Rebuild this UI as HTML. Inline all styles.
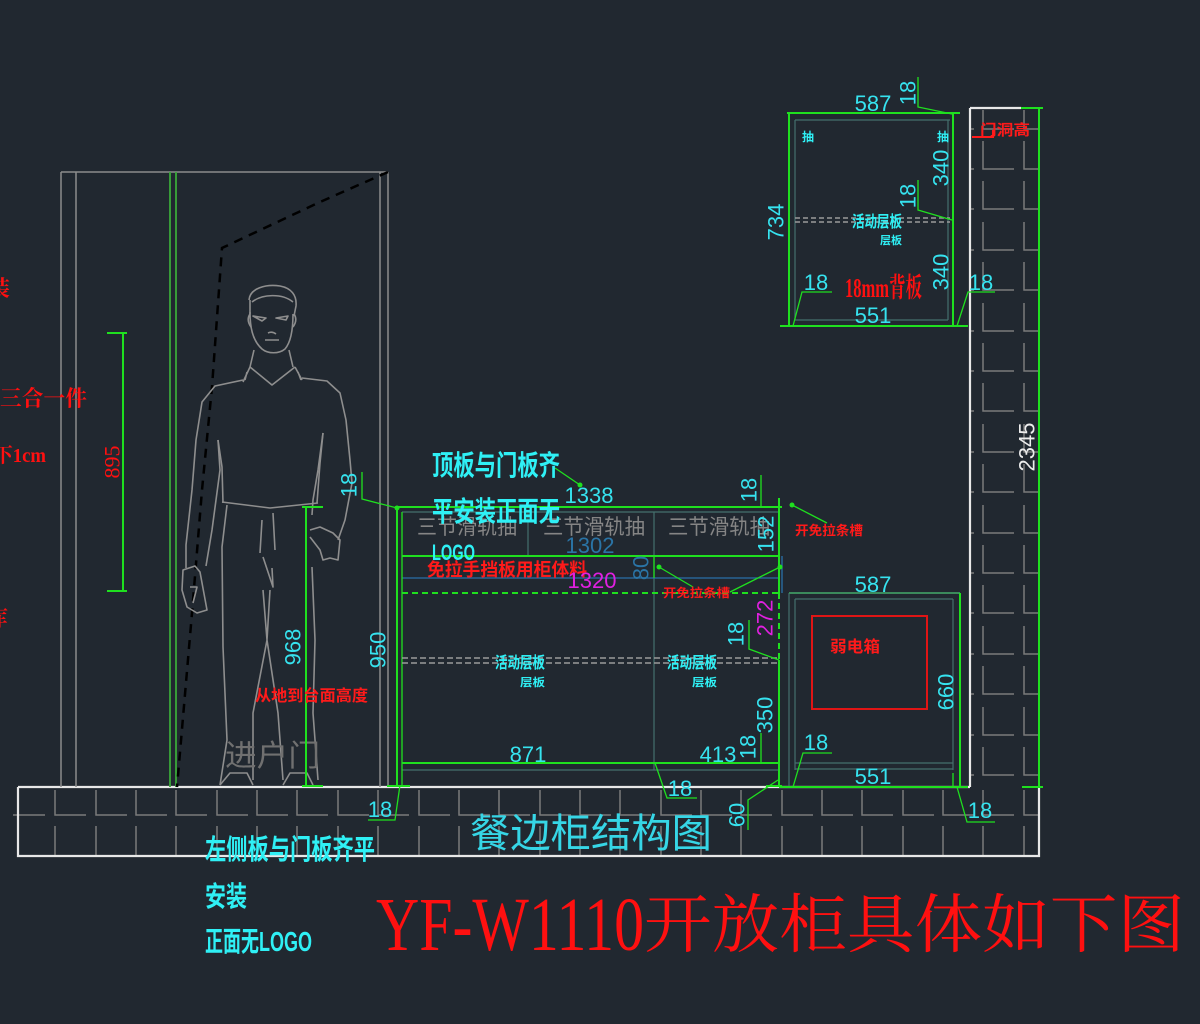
<!DOCTYPE html>
<html><head><meta charset="utf-8"><style>
html,body{margin:0;padding:0;background:#212830;}
svg{display:block;}
.d{font-family:"Liberation Sans","DejaVu Sans",sans-serif;fill:#36e3ef;font-size:22px;}
.cb{font-family:"Liberation Sans","Noto Sans CJK SC",sans-serif;font-weight:700;fill:#2ff0f5;}
.rb{font-family:"Liberation Sans","Noto Sans CJK SC",sans-serif;font-weight:700;fill:#ff1a1a;}
.rs{font-family:"Liberation Serif","Noto Serif CJK SC",serif;fill:#ff1010;}
.g{stroke:#1fe01f;stroke-width:2;fill:none;}
.gt{stroke:#1fe01f;stroke-width:1.3;fill:none;}
.gr{stroke:#8c8c8c;stroke-width:1.5;fill:none;}
.tl{stroke:#45706e;stroke-width:1.2;fill:none;}
</style></head><body>
<svg width="1200" height="1024" viewBox="0 0 1200 1024" xmlns="http://www.w3.org/2000/svg">
<rect width="1200" height="1024" fill="#212830"/>

<!-- floor bricks -->
<path stroke="#7a7a7a" stroke-width="1.5" fill="none" d="M13 815H45 M55 790V815H86 M96 790V815H127 M136 790V815H167 M176 790V815H207 M217 790V815H248 M257 790V815H288 M297 790V815H328 M338 790V815H369 M378 790V815H409 M419 790V815H450 M459 790V815H490 M499 790V815H530 M540 790V815H571 M580 790V815H611 M620 790V815H651 M661 790V815H692 M701 790V815H732 M741 790V815H772 M782 790V815H813 M822 790V815H853 M862 790V815H893 M903 790V815H934 M943 790V815H974 M983 790V815H1014 M1024 790V815H1039
M55 826V855 M96 826V855 M136 826V855 M176 826V855 M217 826V855 M257 826V855 M297 826V855 M338 826V855 M378 826V855 M419 826V855 M459 826V855 M499 826V855 M540 826V855 M580 826V855 M620 826V855 M661 826V855 M701 826V855 M741 826V855 M782 826V855 M822 826V855 M862 826V855 M903 826V855 M943 826V855 M983 826V855 M1024 826V855"/>
<!-- wall bricks -->
<path stroke="#7a7a7a" stroke-width="1.5" fill="none" d="M983 110V129H1014M1024 110V129H1039 M983 141V169H1014M1024 141V169H1039 M983 181V209H1014M1024 181V209H1039 M983 222V250H1014M1024 222V250H1039 M983 262V290H1014M1024 262V290H1039 M983 303V331H1014M1024 303V331H1039 M983 343V371H1014M1024 343V371H1039 M983 383V411H1014M1024 383V411H1039 M983 424V452H1014M1024 424V452H1039 M983 464V492H1014M1024 464V492H1039 M983 505V533H1014M1024 505V533H1039 M983 545V573H1014M1024 545V573H1039 M983 585V613H1014M1024 585V613H1039 M983 626V654H1014M1024 626V654H1039 M983 666V694H1014M1024 666V694H1039 M983 707V735H1014M1024 707V735H1039 M983 747V775H1014M1024 747V775H1039
M970 129H974 M970 169H974 M970 209H974 M970 250H974 M970 290H974 M970 331H974 M970 371H974 M970 411H974 M970 452H974 M970 492H974 M970 533H974 M970 573H974 M970 613H974 M970 654H974 M970 694H974 M970 735H974 M970 775H974"/>
<!-- floor band / wall outline -->
<path stroke="#e8e8e8" stroke-width="2.2" fill="none" d="M18 787H970 M18 787V856H1039V787 M970 108V787 M970 108H1021"/>
<path class="g" d="M1021 108H1043 M1039 108V787 M1022 787H1043"/>
<text class="d" style="fill:#ececec" transform="translate(1027,447) rotate(-90)" text-anchor="middle" dominant-baseline="central">2345</text>
<text class="rb" x="980" y="135" font-size="15" textLength="50" lengthAdjust="spacingAndGlyphs">门洞高</text>
<path stroke="#ff1a1a" stroke-width="2" fill="none" d="M972 137H993V130"/>

<!-- door frame -->
<path class="gr" d="M61 172H388 M61 172V787 M76 172V787 M380 172V787 M388 172V787"/>
<path stroke="#3aa83a" stroke-width="1.8" fill="none" d="M170 172V787 M176 172V787"/>
<path stroke="#000" stroke-width="2.5" fill="none" stroke-dasharray="9 7" d="M388 172L320 202L222 248L212 387L202 490L192 613L177 787"/>

<!-- man -->
<g stroke="#8e8e8e" stroke-width="1.6" fill="none" stroke-linejoin="round">
<path d="M249 300C250 288 266 284 280 286C291 288 297 295 296 306L294 316"/>
<path d="M252 302C262 294 282 293 293 302"/>
<path d="M250 300L250 314"/>
<path d="M250 312C250 326 252 340 262 349C268 354 279 354 285 349C291 342 293 328 293 314"/>
<path d="M250 314Q246 320 251 327 M294 314Q298 320 293 327"/>
<path d="M253 316L266 318L262 321Z M276 318L288 316L286 320Z"/>
<path d="M268 333Q272 331 276 334 M265 340H279"/>
<path d="M254 350L250 367 M289 350L293 367"/>
<path d="M250 367L272 385L295 367 M250 367L243 382 M247 372L245 380 M295 367L302 380 M298 372L301 380"/>
<path d="M243 380L215 386L202 402L196 440L192 490L186 545L186 568"/>
<path d="M218 440L220 470L212 530L206 566"/>
<path d="M302 378L327 381L340 393L346 420L350 460L352 483L345 520L338 540"/>
<path d="M323 433L318 470L313 500L312 515"/>
<path d="M218 440L222 467L223 503 M323 433L320 463L317 503"/>
<path d="M222 502L270 508L318 503"/>
<path d="M183 570L195 566L200 572L207 610L197 613L187 607L182 590Z M190 587L197 587L193 603"/>
<path d="M310 530L320 527L333 533L340 540L338 560L330 558L323 560L320 550L310 537"/>
<path d="M227 505L222 547L223 647L227 740L220 785"/>
<path d="M263 590L267 640L253 713L253 780 M270 590L267 640L278 713L283 780"/>
<path d="M312 567L315 640L313 713L318 780"/>
<path d="M262 520L260 553 M273 513L275 550 M263 557L273 587L272 568"/>
<path d="M220 785L230 773L247 773L253 785 M283 785L290 773L307 773L313 785"/>
</g>
<text x="225" y="766" font-family="Liberation Sans,Noto Sans CJK SC,sans-serif" font-size="30" fill="#707070" textLength="95" lengthAdjust="spacingAndGlyphs">进户门</text>

<!-- left red notes -->
<text class="rs" x="-12" y="296" font-size="22" font-weight="700">装</text>
<text class="rs" x="0" y="406" font-size="22" font-weight="700" textLength="87" lengthAdjust="spacingAndGlyphs">三合一件</text>
<text class="rs" x="-6" y="462" font-size="20" font-weight="700" textLength="52" lengthAdjust="spacingAndGlyphs">下1cm</text>
<text class="rs" x="-14" y="626" font-size="22" font-weight="700">库</text>
<path class="g" d="M123 333V591 M107 333H127 M107 591H127"/>
<text class="rs" font-size="22" transform="translate(112,462) rotate(-90)" text-anchor="middle" dominant-baseline="central">895</text>

<!-- 968 dim -->
<path class="g" d="M306 507V786 M302 507H323 M302 786H323"/>
<text class="d" transform="translate(293,647) rotate(-90)" text-anchor="middle" dominant-baseline="central">968</text>
<text class="rb" x="255" y="701" font-size="16" textLength="113" lengthAdjust="spacingAndGlyphs">从地到台面高度</text>
<text class="d" transform="translate(378,650) rotate(-90)" text-anchor="middle" dominant-baseline="central">950</text>
<text class="d" transform="translate(349,485) rotate(-90)" text-anchor="middle" dominant-baseline="central">18</text>

<!-- middle cabinet -->
<path class="tl" d="M402 512H779 M528 512V556 M654 512V770 M402 770H779"/>
<path stroke="#2a6fa8" stroke-width="1.3" fill="none" d="M402 578H779 M782 556V593"/>
<path class="g" d="M395 507H782 M397 507V787 M779 498V593 M779 660V787 M402 556H779 M402 763H779 M387 786H410 M766 786H782"/>
<path class="gt" d="M402 512V787 M654 556V578"/>
<path class="g" stroke-dasharray="6 4" d="M402 593H779 M779 593V660"/>
<path stroke="#9a9a9a" stroke-width="1.4" fill="none" stroke-dasharray="6 3" d="M402 658H779 M402 663H779"/>
<!-- leaders middle -->
<path class="gt" d="M362 472V499L397 508 M761 475V507 M792 505L827 523 M659 567L693 587 M780 567L730 592 M749 620V649L779 660 M761 733V763H779 M655 763L667 798H697 M778 780L748 800V830 M400 785L395 820H368 M555 468L580 485"/>
<g fill="#1fe01f"><circle cx="792" cy="505" r="2.5"/><circle cx="659" cy="567" r="2.5"/><circle cx="780" cy="567" r="2.5"/><circle cx="580" cy="485" r="2.5"/><circle cx="397" cy="508" r="2.5"/></g>

<text x="417" y="534" font-family="Liberation Sans,Noto Sans CJK SC,sans-serif" font-size="21" fill="#858585" textLength="100" lengthAdjust="spacingAndGlyphs">三节滑轨抽</text>
<text x="543" y="534" font-family="Liberation Sans,Noto Sans CJK SC,sans-serif" font-size="21" fill="#858585" textLength="102" lengthAdjust="spacingAndGlyphs">三节滑轨抽</text>
<text x="668" y="534" font-family="Liberation Sans,Noto Sans CJK SC,sans-serif" font-size="21" fill="#858585" textLength="102" lengthAdjust="spacingAndGlyphs">三节滑轨抽</text>

<text class="cb" x="432" y="475" font-size="28" textLength="128" lengthAdjust="spacingAndGlyphs">顶板与门板齐</text>
<text class="cb" x="432" y="521" font-size="28" textLength="128" lengthAdjust="spacingAndGlyphs">平安装正面无</text>
<text class="cb" x="432" y="560" font-size="22" textLength="43" lengthAdjust="spacingAndGlyphs">LOGO</text>

<text class="d" x="589" y="503" text-anchor="middle">1338</text>
<text class="d" x="590" y="553" text-anchor="middle" style="fill:#2a74a6">1302</text>
<text class="rb" x="427" y="576" font-size="18" textLength="160" lengthAdjust="spacingAndGlyphs">免拉手挡板用柜体料</text>
<text class="d" x="592" y="588" text-anchor="middle" style="fill:#e020e0">1320</text>
<text class="d" style="fill:#2a74a6" transform="translate(641,568) rotate(-90)" text-anchor="middle" dominant-baseline="central">80</text>
<text class="d" transform="translate(766,534) rotate(-90)" text-anchor="middle" dominant-baseline="central">152</text>
<text class="d" transform="translate(749,490) rotate(-90)" text-anchor="middle" dominant-baseline="central">18</text>
<text class="rb" x="795" y="535" font-size="13" textLength="68" lengthAdjust="spacingAndGlyphs">开免拉条槽</text>
<text class="rb" x="663" y="597" font-size="12" textLength="67" lengthAdjust="spacingAndGlyphs">开免拉条槽</text>

<text class="d" transform="translate(765,618) rotate(-90)" text-anchor="middle" dominant-baseline="central" style="fill:#e020e0">272</text>
<text class="d" transform="translate(736,634) rotate(-90)" text-anchor="middle" dominant-baseline="central">18</text>
<text class="cb" x="495" y="668" font-size="16" textLength="50" lengthAdjust="spacingAndGlyphs">活动层板</text>
<text class="cb" x="520" y="686" font-size="11" textLength="25" lengthAdjust="spacingAndGlyphs">层板</text>
<text class="cb" x="667" y="668" font-size="16" textLength="50" lengthAdjust="spacingAndGlyphs">活动层板</text>
<text class="cb" x="692" y="686" font-size="11" textLength="25" lengthAdjust="spacingAndGlyphs">层板</text>
<text class="d" transform="translate(765,715) rotate(-90)" text-anchor="middle" dominant-baseline="central">350</text>
<text class="d" x="528" y="762" text-anchor="middle">871</text>
<text class="d" x="718" y="762" text-anchor="middle">413</text>
<text class="d" transform="translate(748,747) rotate(-90)" text-anchor="middle" dominant-baseline="central">18</text>
<text class="d" x="680" y="796" text-anchor="middle">18</text>
<text class="d" transform="translate(737,815) rotate(-90)" text-anchor="middle" dominant-baseline="central">60</text>
<text class="d" x="380" y="817" text-anchor="middle">18</text>

<!-- upper wall cabinet -->
<path class="tl" d="M795 120H950 M795 120V320 M948 120V320 M795 320H948"/>
<path stroke="#9a9a9a" stroke-width="1.4" fill="none" stroke-dasharray="5 3" d="M795 218H950 M795 222H950"/>
<path class="g" d="M787 113H960 M789 113V326 M953 113V326 M780 326H968"/>
<path class="gt" d="M918 77V107L952 114 M918 180V210L952 220 M832 292H802L793 326 M995 292H968L957 326"/>
<text class="d" x="873" y="111" text-anchor="middle">587</text>
<text class="d" transform="translate(908,93) rotate(-90)" text-anchor="middle" dominant-baseline="central">18</text>
<text class="d" transform="translate(941,168) rotate(-90)" text-anchor="middle" dominant-baseline="central">340</text>
<text class="d" transform="translate(908,196) rotate(-90)" text-anchor="middle" dominant-baseline="central">18</text>
<text class="d" transform="translate(941,272) rotate(-90)" text-anchor="middle" dominant-baseline="central">340</text>
<text class="d" transform="translate(776,222) rotate(-90)" text-anchor="middle" dominant-baseline="central">734</text>
<text class="cb" x="802" y="141" font-size="12">抽</text>
<text class="cb" x="937" y="141" font-size="12">抽</text>
<text class="cb" x="852" y="227" font-size="16" textLength="50" lengthAdjust="spacingAndGlyphs">活动层板</text>
<text class="cb" x="880" y="244" font-size="11" textLength="22" lengthAdjust="spacingAndGlyphs">层板</text>
<text class="rs" x="845" y="297" font-size="27" font-weight="700" textLength="77" lengthAdjust="spacingAndGlyphs">18mm背板</text>
<text class="d" x="873" y="323" text-anchor="middle">551</text>
<text class="d" x="816" y="290" text-anchor="middle">18</text>
<text class="d" x="981" y="290" text-anchor="middle">18</text>

<!-- lower right cabinet -->
<path class="tl" d="M789 593V787 M795 599V770 M795 599H953 M953 599V770 M795 763H953 M795 769H953"/>
<path stroke="#3b8a5c" stroke-width="2" fill="none" d="M789 593H960"/>
<path class="g" d="M960 593V787 M779 787H968"/>
<rect x="812" y="616" width="115" height="93" fill="none" stroke="#e01515" stroke-width="2"/>
<text class="rb" x="830" y="652" font-size="16" textLength="50" lengthAdjust="spacingAndGlyphs">弱电箱</text>
<path class="gt" d="M832 753H803L793 787 M953 773V787 M957 787L967 822H995"/>
<text class="d" x="873" y="592" text-anchor="middle">587</text>
<text class="d" transform="translate(946,692) rotate(-90)" text-anchor="middle" dominant-baseline="central">660</text>
<text class="d" x="873" y="784" text-anchor="middle">551</text>
<text class="d" x="816" y="750" text-anchor="middle">18</text>
<text class="d" x="980" y="818" text-anchor="middle">18</text>

<!-- floor labels -->
<text x="470" y="847" font-family="Liberation Sans,Noto Sans CJK SC,sans-serif" font-size="40" fill="#36d6e6" textLength="242" lengthAdjust="spacingAndGlyphs">餐边柜结构图</text>
<text class="cb" x="205" y="859" font-size="28" textLength="170" lengthAdjust="spacingAndGlyphs">左侧板与门板齐平</text>
<text class="cb" x="205" y="906" font-size="28" textLength="42" lengthAdjust="spacingAndGlyphs">安装</text>
<text class="cb" x="205" y="951" font-size="28" textLength="107" lengthAdjust="spacingAndGlyphs">正面无LOGO</text>

<!-- title -->
<text class="rs" x="376" y="950" font-size="76" textLength="268" lengthAdjust="spacingAndGlyphs">YF-W1110</text>
<text class="rs" x="644" y="947" font-size="64" textLength="541" lengthAdjust="spacingAndGlyphs">开放柜具体如下图</text>
</svg>
</body></html>
